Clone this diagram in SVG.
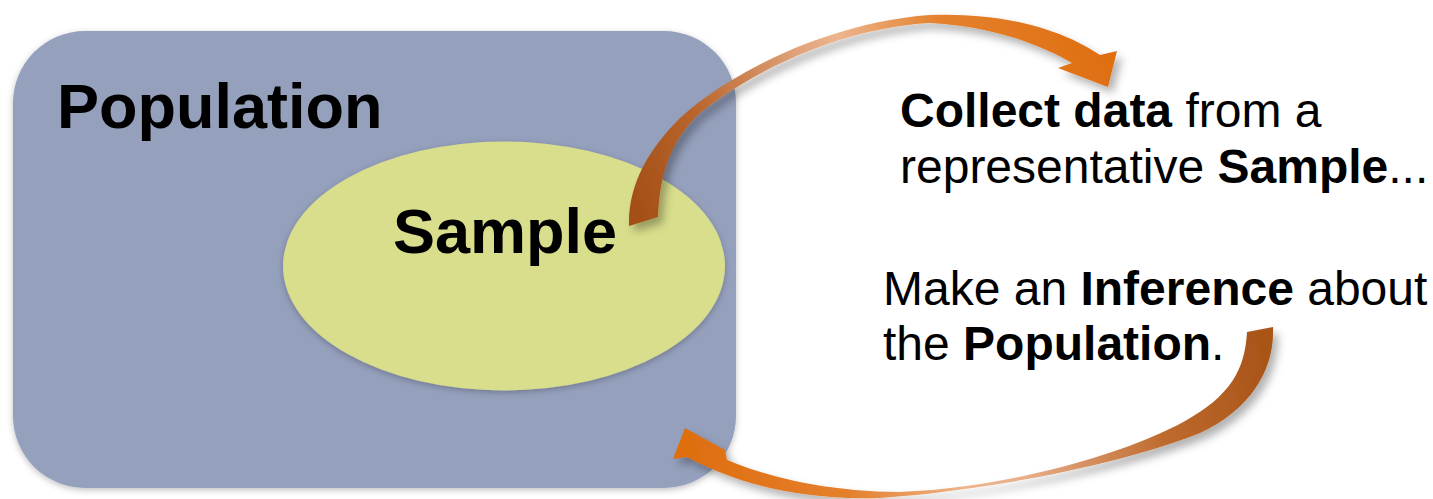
<svg xmlns="http://www.w3.org/2000/svg" width="1433" height="499" viewBox="0 0 1433 499">
  <defs>
    <style>
      .lbl { font-family: "Liberation Sans", Arial, sans-serif; fill: #000; }
      .b { font-weight: bold; }
      .big { font-size: 63px; font-weight: bold; }
      .txt { font-size: 48px; }
    </style>
    <filter id="softShadow" x="-10%" y="-10%" width="120%" height="120%">
      <feDropShadow dx="0" dy="2" stdDeviation="3" flood-color="#000" flood-opacity="0.25"/>
    </filter>
    <filter id="arrowShadow" x="-20%" y="-20%" width="140%" height="140%">
      <feDropShadow dx="5" dy="6" stdDeviation="4.5" flood-color="#000" flood-opacity="0.3"/>
    </filter>
    <linearGradient id="grad1" gradientUnits="userSpaceOnUse" x1="640" y1="225" x2="1110" y2="60">
      <stop offset="0" stop-color="#A34F18"/>
      <stop offset="0.18" stop-color="#B9652C"/>
      <stop offset="0.42" stop-color="#E2A47C"/>
      <stop offset="0.5" stop-color="#EDB58E"/>
      <stop offset="0.7" stop-color="#E4822E"/>
      <stop offset="1" stop-color="#DF6E10"/>
    </linearGradient>
    <linearGradient id="grad2" gradientUnits="userSpaceOnUse" x1="1262" y1="330" x2="690" y2="445">
      <stop offset="0" stop-color="#A85418"/>
      <stop offset="0.2" stop-color="#BE6A2E"/>
      <stop offset="0.45" stop-color="#E8AE88"/>
      <stop offset="0.55" stop-color="#EEB48C"/>
      <stop offset="0.75" stop-color="#E4802C"/>
      <stop offset="1" stop-color="#DF6E10"/>
    </linearGradient>
  </defs>

  <g id="population">
    <rect x="13" y="31" width="723" height="457" rx="72" ry="72" fill="#95A0BD" filter="url(#softShadow)"/>
    <text class="lbl big" x="57" y="128">Population</text>
  </g>

  <g id="sample">
    <ellipse cx="504" cy="266" rx="221" ry="124.5" fill="#D9DE8C" filter="url(#softShadow)"/>
    <text class="lbl" x="393" y="253" font-size="63" font-weight="bold">Sample</text>
  </g>

  <g id="collect-text">
    <text class="lbl txt" x="900" y="127"><tspan class="b">Collect data</tspan> from a</text>
    <text class="lbl txt" x="900" y="183">representative <tspan class="b">Sample</tspan>...</text>
  </g>

  <g id="inference-text">
    <text class="lbl txt" x="883" y="305">Make an <tspan class="b">Inference</tspan> about</text>
    <text class="lbl txt" x="883" y="360">the <tspan class="b">Population</tspan>.</text>
  </g>

  <g id="connectors">
    <path id="arrow-collect" filter="url(#arrowShadow)" fill="url(#grad1)"
      d="M629,226 C628,185 648,150 680,118 C730,72 830,22 930,15 C1000,12 1060,28 1100,55 L1117,51 L1108,87 L1058,68 L1072,63 C1040,44 990,26 930,23 C850,27 760,65 700,113 C672,140 660,170 658,217 Z"/>
    <path id="arrow-infer" filter="url(#arrowShadow)" fill="url(#grad2)"
      d="M1273,327 C1275,370 1250,410 1200,433 C1120,465 990,490 880,498 C800,500 740,485 687,457 L673,459 L685,428 L725,450 L727,460 C770,478 830,492 900,492 C1010,488 1130,452 1185,421 C1230,396 1245,370 1247,332 Z"/>
  </g>
</svg>
